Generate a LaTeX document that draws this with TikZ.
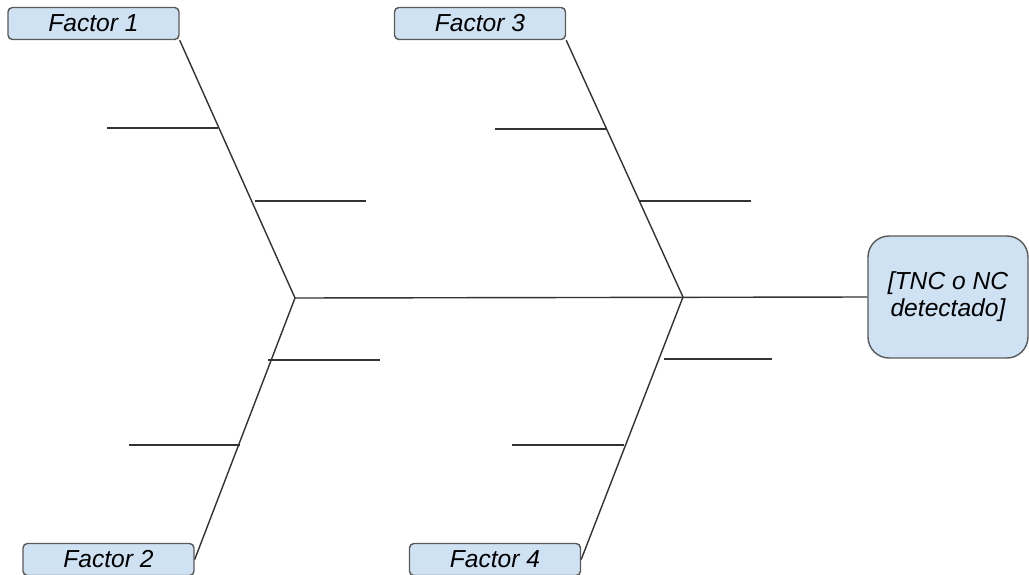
\documentclass[tikz,border=0pt]{standalone}
\usepackage{fontspec}
\setmainfont{Liberation Sans}
\usetikzlibrary{calc}

\definecolor{boxblue}{HTML}{CFE2F3}
\definecolor{boxline}{HTML}{595959}
\definecolor{boneline}{HTML}{333333}

\tikzset{
	factor/.style={draw=boxline,fill=boxblue,rounded corners=2.5pt,line width=0.8pt,
		minimum width=3.42cm,minimum height=0.64cm,inner sep=0pt,
		font=\itshape\fontsize{14}{16}\selectfont},
	effect/.style={draw=boxline,fill=boxblue,rounded corners=0.42cm,line width=0.8pt,
		minimum width=3.2cm,minimum height=2.44cm,inner sep=0pt,align=center,
		font=\itshape\fontsize{14}{15.5}\selectfont},
	bone/.style={draw=boneline,line width=0.8pt}
}

\begin{document}
\begin{tikzpicture}[x=0.02cm,y=-0.02cm]
	\useasboundingbox (0,0) rectangle (1029,575);

	% heads of the bones
	\node[factor] (f1) at (93.5,23.5) {Factor 1};
	\node[factor] (f3) at (480,23.5) {Factor 3};
	\node[factor] (f2) at (108.5,559.5) {Factor 2};
	\node[factor] (f4) at (495,559.5) {Factor 4};
	\node[effect] (eff) at (948,297) {[TNC o NC\\detectado]};

	\coordinate (j1) at (295,298);
	\coordinate (j2) at (683,297);

	% spine and main bones
	\draw[bone] (j1) -- (eff.west);
	\draw[bone] (f1.south east) -- (j1);
	\draw[bone] (f2.east) -- (j1);
	\draw[bone] (f3.south east) -- (j2);
	\draw[bone] (f4.east) -- (j2);

	% small side bones
	\foreach \xa/\xb/\yy in {107/218/128, 255/366/201, 268/380/360, 129/240/445,
		495/606/129, 640/751/201, 664/772/359, 512/624/445} {
		\draw[bone] (\xa,\yy) -- (\xb,\yy);
	};
\end{tikzpicture}
\end{document}
